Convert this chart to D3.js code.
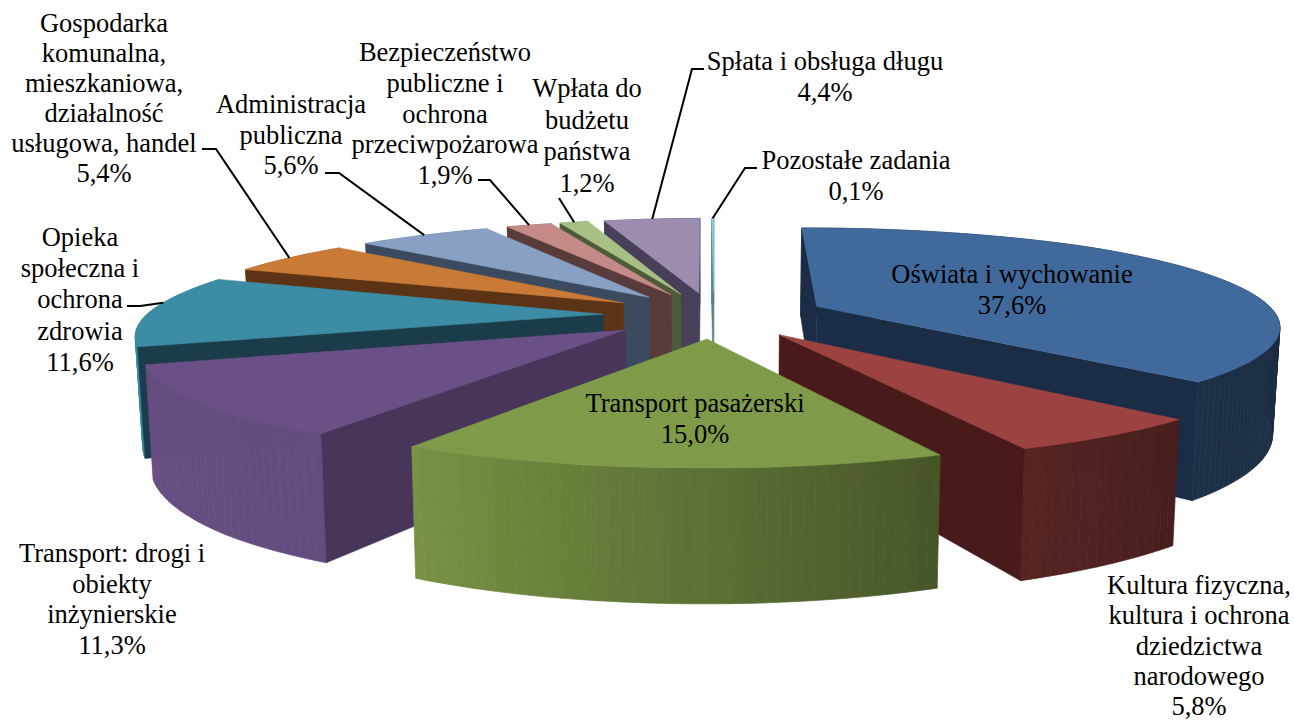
<!DOCTYPE html>
<html><head><meta charset="utf-8">
<script src="https://cdn.jsdelivr.net/npm/d3@7/dist/d3.min.js"></script>
<style>html,body{margin:0;padding:0;background:#fff}svg{display:block}text{font-family:"Liberation Serif",serif;font-size:26.5px;fill:#000}</style>
</head><body><svg id="c" width="1294" height="722"></svg>
<script>
const categories = ["Oświata i wychowanie","Kultura fizyczna, kultura i ochrona dziedzictwa narodowego","Transport pasażerski","Transport: drogi i obiekty inżynierskie","Opieka społeczna i ochrona zdrowia","Gospodarka komunalna, mieszkaniowa, działalność usługowa, handel","Administracja publiczna","Bezpieczeństwo publiczne i ochrona przeciwpożarowa","Wpłata do budżetu państwa","Spłata i obsługa długu","Pozostałe zadania"];
const values = [37.6,5.8,15.0,11.3,11.6,5.4,5.6,1.9,1.2,4.4,0.1];
const topColors = ["#406a9c","#9c4240","#7f9a48","#6a5086","#3c8ca6","#c87a36","#87a0c4","#c48a88","#a9c084","#9c8cb0","#8ecbdc"];
const sideColors = ["#1b2d46","#481b1a","#47552a","#47365a","#1b3c4a","#5c3315","#3b4a5e","#5a3b3b","#4d5b38","#474058","#5a7f8c"];
const labelLines = [
 ["Oświata i wychowanie","37,6%"],
 ["Kultura fizyczna,","kultura i ochrona","dziedzictwa","narodowego","5,8%"],
 ["Transport pasażerski","15,0%"],
 ["Transport: drogi i","obiekty","inżynierskie","11,3%"],
 ["Opieka","społeczna i","ochrona","zdrowia","11,6%"],
 ["Gospodarka","komunalna,","mieszkaniowa,","działalność","usługowa, handel","5,4%"],
 ["Administracja","publiczna","5,6%"],
 ["Bezpieczeństwo","publiczne i","ochrona","przeciwpożarowa","1,9%"],
 ["Wpłata do","budżetu","państwa","1,2%"],
 ["Spłata i obsługa długu","4,4%"],
 ["Pozostałe zadania","0,1%"]];
// label layout: centre x, first-line centre y, line step
const labelLayout = [[1012,274,31],[1199,585,30.3],[695,403,31],[112,553,30.5],[80,237,31.2],[104,23,30],[291,104,30.5],[445,52,30.8],[587,88,31.5],[825,61,30.5],[856,160,31]];
// leader: elbow points from label, ending on the projected rim of the slice (fraction along slice)
const leaders = {4:{pts:[[127,306],[140,306]],f:.62},5:{pts:[[202,149],[216,149]],f:.5},6:{pts:[[325,173],[339,173]],f:.5},7:{pts:[[478,180],[490,180]],f:.5},8:{pts:[[559,198]],f:.5},9:{pts:[[704,69],[692,69]],f:.5},10:{pts:[[757,168],[745,168]],f:.5}};

const cx=714, yv=-211, B=526, AL=463, AR=469, D=5.5, Dx=5.8, EXPLODE=.24, DROP=.2, SHRINK=.987;
const xS=d3.scaleLinear().domain([-1,0,1]).range([cx-AL,cx,cx+AR]);
const yS=d3.scaleLinear().domain([0,1]).range([yv,yv+B]);
const shade=d3.scaleLinear().domain([0,90,135,156,183,210,250,280,360]).range([.43,.43,.45,.55,.75,.95,.97,.95,.6]);
function proj(X,Y,z){
 const X2=X>0?X-.06*Math.max(0,X-.9):X+.04*Math.max(0,-X-.9);
 let sx=xS(X2/(1+Y/Dx)),sy=yS(1/(1+Y/D));
 if(X<0) sx+=(Y>0?9:4)*Y*Math.min(1,-X/.3);
 if(z){sx=cx+(sx-cx)*SHRINK;sy=sy+DROP*(sy-yv);}
 return [sx,sy];
}
const arcs=d3.pie().value(d=>d).sort(null).startAngle(0).endAngle(2*Math.PI)(values);
const line=d3.line();
const svg=d3.select("#c");
svg.append("rect").attr("width",1294).attr("height",722).attr("fill","#fff");
function area(p){return d3.polygonArea(p);}
const slices=arcs.map((a,i)=>{const m=(a.startAngle+a.endAngle)/2;return {a,i,ox:EXPLODE*Math.sin(m),oy:EXPLODE*Math.cos(m)};});
slices.sort((p,q)=>q.oy-p.oy);
slices.forEach(s=>{
 const {a,i,ox,oy}=s;
 const g=svg.append("g");
 const rim=t=>[ox+Math.sin(t),oy+Math.cos(t)];
 const n=Math.max(2,Math.ceil((a.endAngle-a.startAngle)/(Math.PI/150)));
 const ts=d3.range(n+1).map(k=>a.startAngle+(a.endAngle-a.startAngle)*k/n);
 // outer strip
 const base=d3.rgb(topColors[i]);
 ts.slice(0,-1).forEach((t,k)=>{
  const r0=rim(t),r1=rim(ts[k+1]);
  const f=shade(((t+ts[k+1])/2)*180/Math.PI);
  const c=d3.rgb(base.r*f,base.g*f,base.b*f).formatHex();
  g.append("path").attr("d",line([proj(...r0,0),proj(...r1,0),proj(...r1,1),proj(...r0,1)])+"Z").attr("fill",c).attr("stroke",c).attr("stroke-width",.7);
 });
 // radial faces (only those turned towards the viewer)
 [[a.startAngle,1],[a.endAngle,-1]].forEach(([t,sgn])=>{
  const r=rim(t);
  const q=[proj(ox,oy,0),proj(...r,0),proj(...r,1),proj(ox,oy,1)];
  if(area(q)*sgn>0) g.append("path").attr("d",line(q)+"Z").attr("fill",sideColors[i]).attr("stroke",sideColors[i]).attr("stroke-width",.5);
 });
 // top
 const top=[proj(ox,oy,0),...ts.map(t=>proj(...rim(t),0))];
 g.append("path").attr("d",line(top)+"Z").attr("fill",topColors[i]).attr("stroke",topColors[i]).attr("stroke-width",.5);
});
// leaders
Object.keys(leaders).forEach(k=>{
 const L=leaders[k],s=slices.find(d=>d.i==k),t=s.a.startAngle+(s.a.endAngle-s.a.startAngle)*L.f;
 const end=proj(s.ox+Math.sin(t),s.oy+Math.cos(t),0);
 svg.append("path").attr("d",line([...L.pts,end])).attr("fill","none").attr("stroke","#000").attr("stroke-width",2);
});
// labels
labelLines.forEach((lines,i)=>{
 const [x,y,st]=labelLayout[i];
 lines.forEach((t,j)=>svg.append("text").attr("x",x).attr("y",y+j*st).attr("text-anchor","middle").attr("dominant-baseline","central").text(t));
});
</script></body></html>
